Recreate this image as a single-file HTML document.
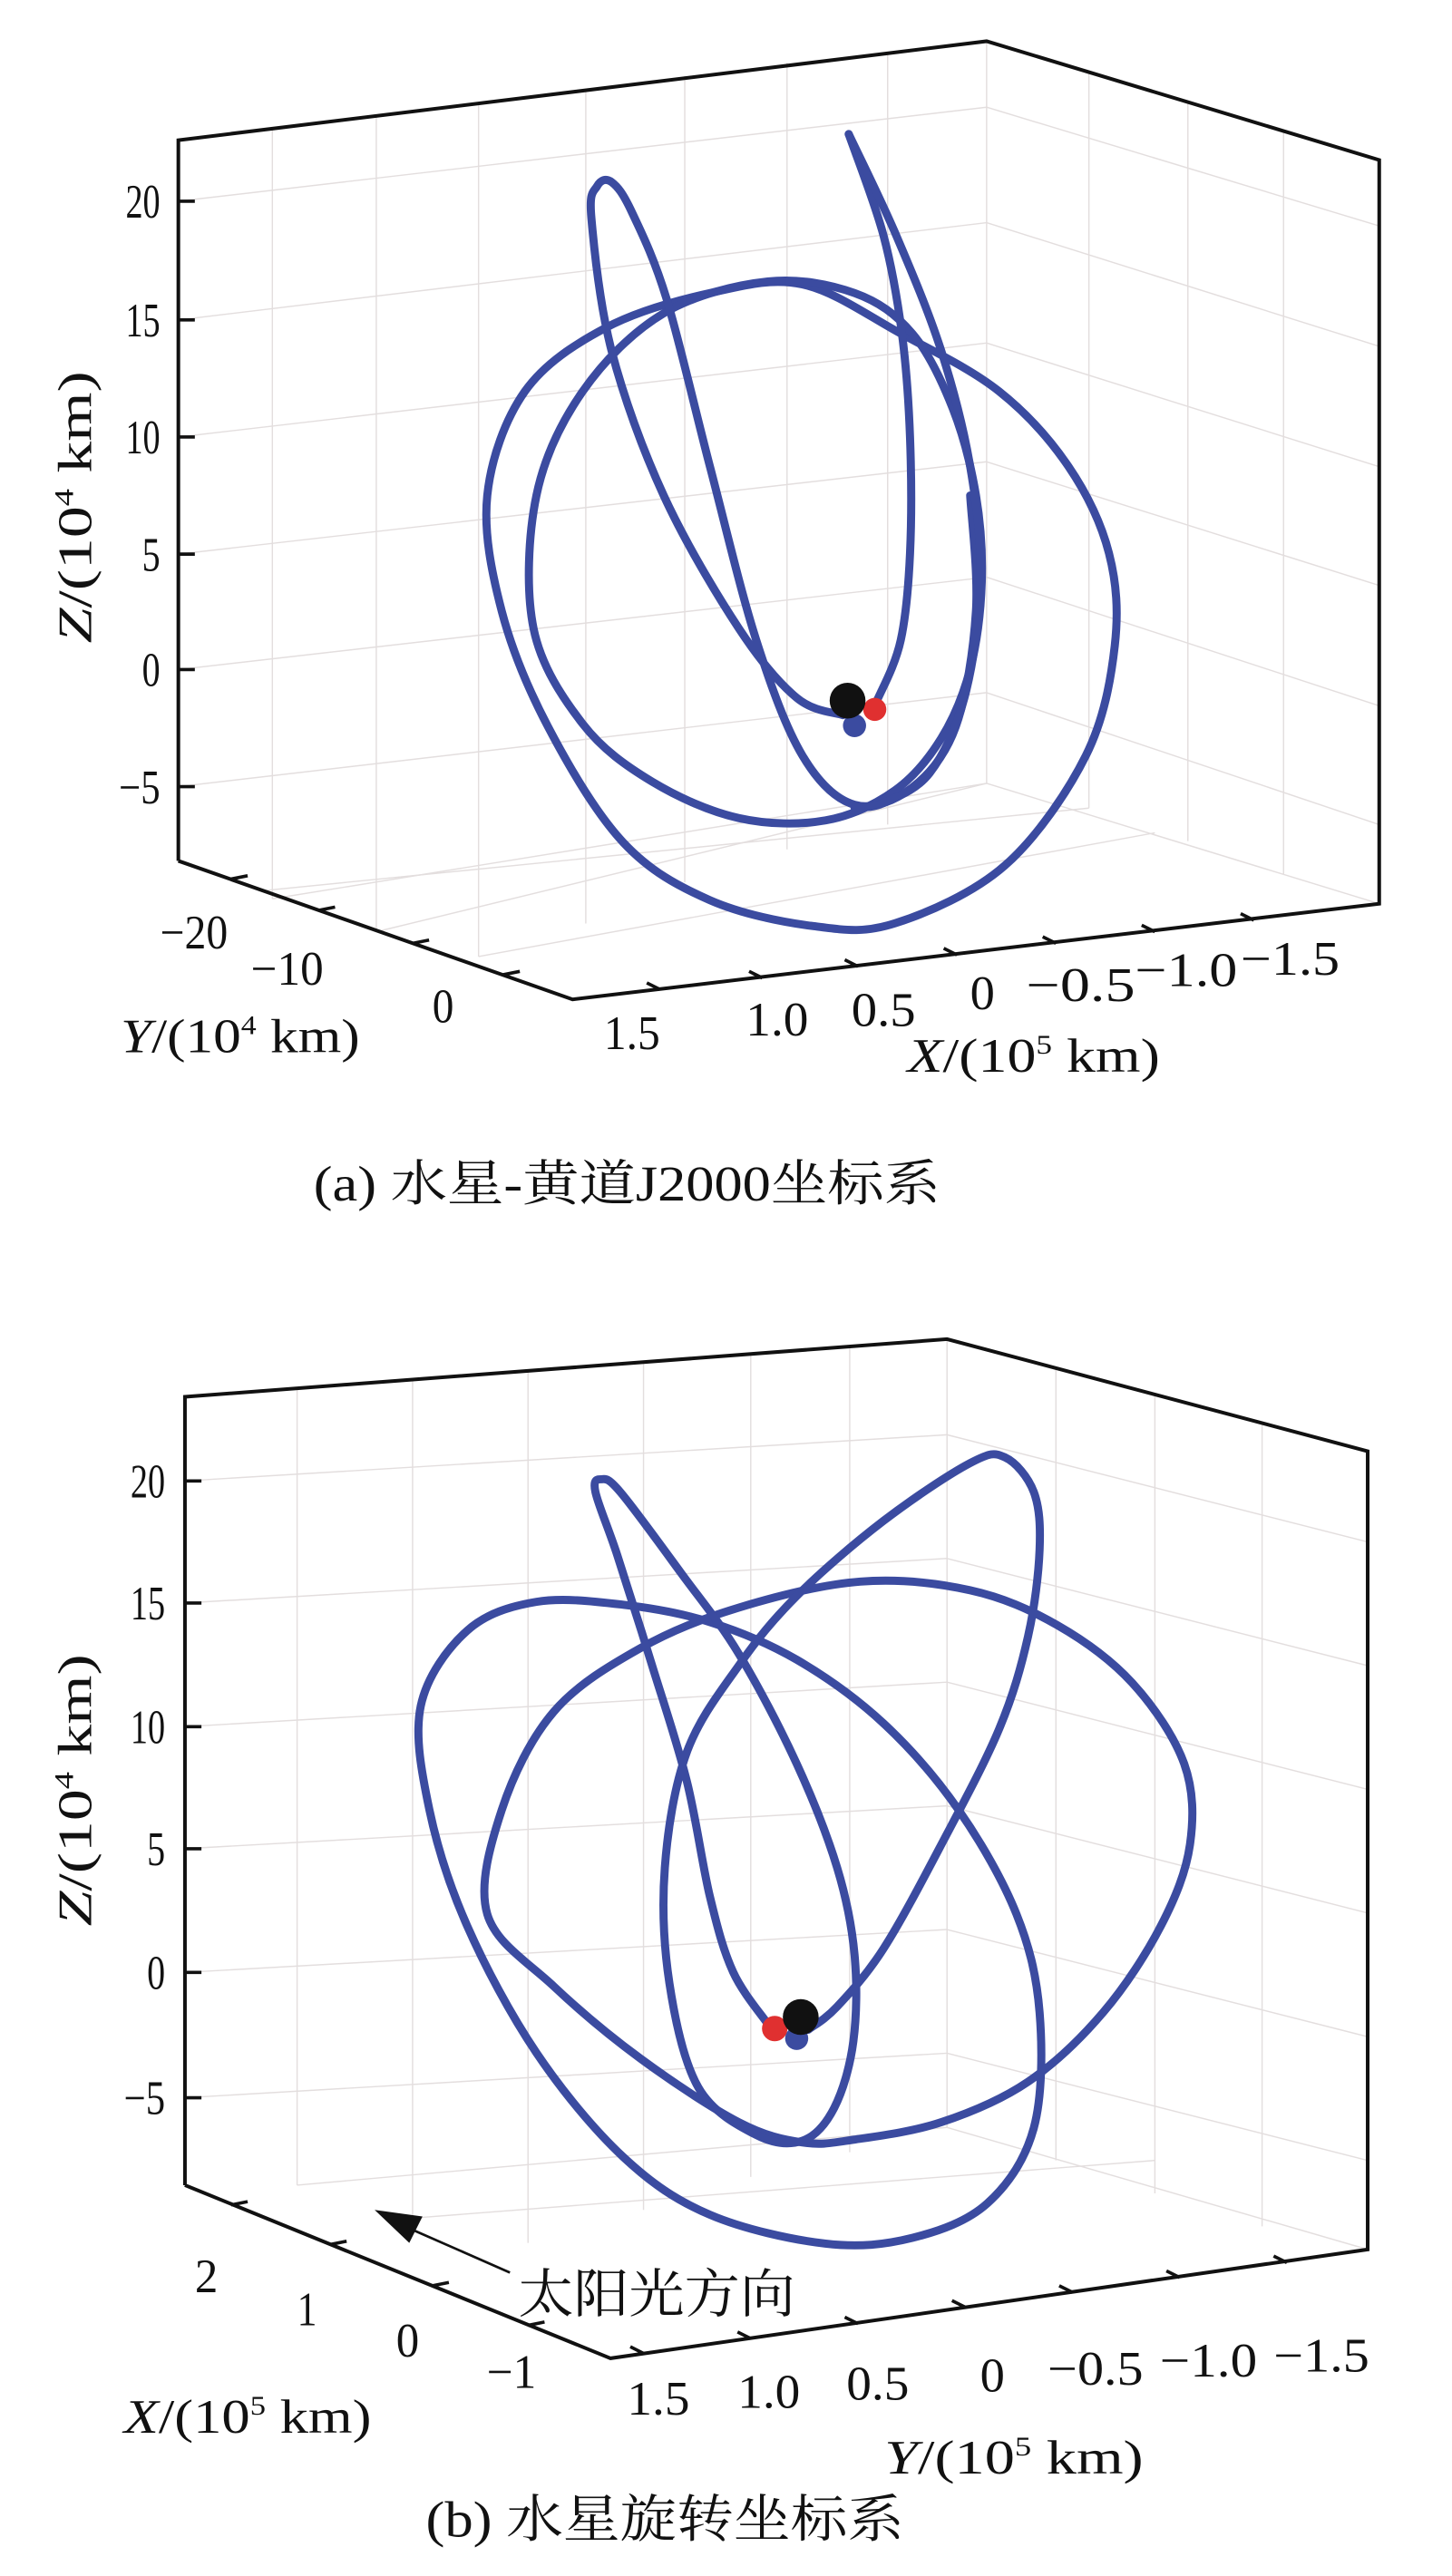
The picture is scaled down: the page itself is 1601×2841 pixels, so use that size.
<!DOCTYPE html>
<html><head><meta charset="utf-8"><style>
html,body{margin:0;padding:0;background:#fff;}
svg{display:block;}
text{font-family:"Liberation Serif","Noto Serif CJK SC",serif;fill:#111;}
</style></head><body>
<svg width="1601" height="2841" viewBox="0 0 880 1562" xmlns="http://www.w3.org/2000/svg">
<!-- ============ PANEL A ============ -->
<g stroke="#e3dede" stroke-width="0.8" fill="none">
  <line x1="165" y1="78" x2="165" y2="545"/>
  <line x1="228" y1="70" x2="228" y2="565"/>
  <line x1="290" y1="62" x2="290" y2="580"/>
  <line x1="355" y1="54" x2="355" y2="560"/>
  <line x1="415" y1="46" x2="415" y2="535"/>
  <line x1="477" y1="38" x2="477" y2="515"/>
  <line x1="538" y1="32" x2="538" y2="500"/>
  <line x1="598" y1="25" x2="598" y2="475"/>
  <line x1="660" y1="44" x2="660" y2="490"/>
  <line x1="720" y1="62" x2="720" y2="510"/>
  <line x1="778" y1="80" x2="778" y2="530"/>
  <line x1="108" y1="122" x2="598" y2="65"/>
  <line x1="108" y1="194" x2="598" y2="135"/>
  <line x1="108" y1="265" x2="598" y2="208"/>
  <line x1="108" y1="336" x2="598" y2="280"/>
  <line x1="108" y1="406" x2="598" y2="350"/>
  <line x1="108" y1="477" x2="598" y2="420"/>
  <line x1="598" y1="65" x2="836" y2="137"/>
  <line x1="598" y1="135" x2="836" y2="210"/>
  <line x1="598" y1="208" x2="836" y2="283"/>
  <line x1="598" y1="280" x2="836" y2="355"/>
  <line x1="598" y1="350" x2="836" y2="428"/>
  <line x1="598" y1="420" x2="836" y2="500"/>
  <line x1="165" y1="545" x2="598" y2="475"/>
  <line x1="228" y1="565" x2="598" y2="475"/>
  <line x1="290" y1="580" x2="700" y2="505"/>
  <line x1="598" y1="475" x2="836" y2="548"/>
  <line x1="160" y1="540" x2="660" y2="490"/>
</g>
<polyline points="108,522 108,85 598,25 836,97 836,548 347,606 108,522" stroke="#111" stroke-width="2.2" fill="none"/>
<g stroke="#111" stroke-width="2">
  <line x1="108" y1="122" x2="118" y2="122"/><line x1="108" y1="194" x2="118" y2="194"/>
  <line x1="108" y1="265" x2="118" y2="265"/><line x1="108" y1="336" x2="118" y2="336"/>
  <line x1="108" y1="406" x2="118" y2="406"/><line x1="108" y1="477" x2="118" y2="477"/>
  <line x1="140" y1="533" x2="150" y2="531"/><line x1="193" y1="552" x2="203" y2="550"/>
  <line x1="250" y1="572" x2="260" y2="570"/><line x1="305" y1="591" x2="315" y2="589"/>
  <line x1="400" y1="600" x2="392" y2="596"/><line x1="462" y1="593" x2="454" y2="589"/>
  <line x1="520" y1="586" x2="512" y2="582"/><line x1="580" y1="579" x2="572" y2="575"/>
  <line x1="640" y1="572" x2="632" y2="568"/><line x1="700" y1="565" x2="692" y2="561"/>
  <line x1="760" y1="558" x2="752" y2="554"/>
</g>
<g font-size="29">
  <text x="76" y="132" textLength="21" lengthAdjust="spacingAndGlyphs">20</text>
  <text x="76" y="204" textLength="21" lengthAdjust="spacingAndGlyphs">15</text>
  <text x="76" y="275" textLength="21" lengthAdjust="spacingAndGlyphs">10</text>
  <text x="86" y="346" textLength="11" lengthAdjust="spacingAndGlyphs">5</text>
  <text x="86" y="416" textLength="11" lengthAdjust="spacingAndGlyphs">0</text>
  <text x="72" y="487" textLength="25" lengthAdjust="spacingAndGlyphs">−5</text>
  <text x="97" y="575" textLength="41" lengthAdjust="spacingAndGlyphs">−20</text>
  <text x="152" y="597" textLength="44" lengthAdjust="spacingAndGlyphs">−10</text>
  <text x="262" y="620" textLength="13" lengthAdjust="spacingAndGlyphs">0</text>
  <text x="366" y="636" textLength="34" lengthAdjust="spacingAndGlyphs">1.5</text>
  <text x="452" y="628" textLength="38" lengthAdjust="spacingAndGlyphs">1.0</text>
  <text x="516" y="622" textLength="39" lengthAdjust="spacingAndGlyphs">0.5</text>
  <text x="588" y="612" textLength="15" lengthAdjust="spacingAndGlyphs">0</text>
  <text x="622" y="607" textLength="66" lengthAdjust="spacingAndGlyphs">−0.5</text>
  <text x="688" y="598" textLength="62" lengthAdjust="spacingAndGlyphs">−1.0</text>
  <text x="752" y="591" textLength="60" lengthAdjust="spacingAndGlyphs">−1.5</text>
  <text x="73" y="638" textLength="145" lengthAdjust="spacingAndGlyphs"><tspan font-style="italic">Y</tspan>/(10<tspan font-size="16" dy="-11">4</tspan><tspan dy="11"> km)</tspan></text>
  <text x="550" y="650" textLength="153" lengthAdjust="spacingAndGlyphs"><tspan font-style="italic">X</tspan>/(10<tspan font-size="16" dy="-11">5</tspan><tspan dy="11"> km)</tspan></text>
  <text transform="translate(55,390) rotate(-90)" x="0" y="0" textLength="165" lengthAdjust="spacingAndGlyphs"><tspan font-style="italic">Z</tspan>/(10<tspan font-size="16" dy="-11">4</tspan><tspan dy="11"> km)</tspan></text>
  <text x="190" y="728" font-size="30" textLength="380" lengthAdjust="spacingAndGlyphs">(a) 水星-黄道J2000坐标系</text>
</g>

<g transform="translate(219.9,55) scale(0.3506)" stroke="#3b4ba0" stroke-width="14" fill="none" stroke-linecap="round" stroke-linejoin="round">
  <path class="orb" d="M215,700 L280,520 L420,410 L600,350 L760,335 L930,420 L1100,520 L1220,650 L1290,800 L1300,960 L1250,1150 L1110,1340 L920,1440 L780,1445 L600,1400 L450,1300 L320,1100 L240,900 Z"/>
  <path class="orb" d="M295,930 L300,700 L380,520 L520,385 L700,330 L850,350 L950,420 L1020,550 L1060,700 L1070,850 L1050,1000 L1000,1120 L920,1210 L800,1262 L650,1258 L500,1195 L380,1095 Z"/>
  <path class="orb" d="M830,1080 L750,1050 L650,930 L520,700 L430,450 L395,220 L405,165 L430,158 L465,210 L525,360 L600,650 L680,950 L760,1150 L850,1235 L950,1205 L1025,1100 L1060,900 L1050,700"/>
  <path class="orb" d="M840,75 L900,250 L932,420 L946,600 L946,800 L930,950 L892,1048 L875,1070"/>
  <path class="orb" d="M840,75 L922,250 L1000,450 L1050,650 L1068,850 L1040,1050 L980,1180 L900,1232 L850,1240"/>
</g>
<g transform="translate(219.9,55) scale(0.3506)">
  <circle cx="850" cy="1098" r="20" fill="#3b4ba0"/>
  <circle cx="885" cy="1070" r="20" fill="#e03030"/>
  <circle cx="838" cy="1055" r="31" fill="#111"/>
</g>

<!-- ============ PANEL B ============ -->
<g stroke="#e3dede" stroke-width="0.8" fill="none">
  <line x1="180" y1="842" x2="180" y2="1325"/>
  <line x1="250" y1="837" x2="250" y2="1345"/>
  <line x1="320" y1="832" x2="320" y2="1360"/>
  <line x1="390" y1="827" x2="390" y2="1340"/>
  <line x1="455" y1="822" x2="455" y2="1320"/>
  <line x1="515" y1="817" x2="515" y2="1305"/>
  <line x1="574" y1="812" x2="574" y2="1290"/>
  <line x1="640" y1="830" x2="640" y2="1310"/>
  <line x1="700" y1="846" x2="700" y2="1330"/>
  <line x1="765" y1="863" x2="765" y2="1350"/>
  <line x1="112" y1="898" x2="574" y2="870"/>
  <line x1="112" y1="972" x2="574" y2="945"/>
  <line x1="112" y1="1047" x2="574" y2="1020"/>
  <line x1="112" y1="1121" x2="574" y2="1095"/>
  <line x1="112" y1="1196" x2="574" y2="1170"/>
  <line x1="112" y1="1272" x2="574" y2="1245"/>
  <line x1="574" y1="870" x2="829" y2="935"/>
  <line x1="574" y1="945" x2="829" y2="1010"/>
  <line x1="574" y1="1020" x2="829" y2="1085"/>
  <line x1="574" y1="1095" x2="829" y2="1160"/>
  <line x1="574" y1="1170" x2="829" y2="1235"/>
  <line x1="574" y1="1245" x2="829" y2="1310"/>
  <line x1="180" y1="1325" x2="574" y2="1290"/>
  <line x1="250" y1="1345" x2="700" y2="1310"/>
  <line x1="574" y1="1290" x2="829" y2="1364"/>
</g>
<polyline points="112,1325 112,847 574,812 829,880 829,1364 370,1430 112,1325" stroke="#111" stroke-width="2.2" fill="none"/>
<g stroke="#111" stroke-width="2">
  <line x1="112" y1="898" x2="122" y2="898"/><line x1="112" y1="972" x2="122" y2="972"/>
  <line x1="112" y1="1047" x2="122" y2="1047"/><line x1="112" y1="1121" x2="122" y2="1121"/>
  <line x1="112" y1="1196" x2="122" y2="1196"/><line x1="112" y1="1272" x2="122" y2="1272"/>
  <line x1="140" y1="1337" x2="150" y2="1335"/><line x1="200" y1="1361" x2="210" y2="1359"/>
  <line x1="262" y1="1386" x2="272" y2="1384"/><line x1="320" y1="1410" x2="330" y2="1408"/>
  <line x1="390" y1="1427" x2="382" y2="1423"/><line x1="455" y1="1418" x2="447" y2="1414"/>
  <line x1="520" y1="1409" x2="512" y2="1405"/><line x1="585" y1="1399" x2="577" y2="1395"/>
  <line x1="650" y1="1390" x2="642" y2="1386"/><line x1="715" y1="1381" x2="707" y2="1377"/>
  <line x1="780" y1="1372" x2="772" y2="1368"/>
</g>
<g font-size="29">
  <text x="79" y="908" textLength="21" lengthAdjust="spacingAndGlyphs">20</text>
  <text x="79" y="982" textLength="21" lengthAdjust="spacingAndGlyphs">15</text>
  <text x="79" y="1057" textLength="21" lengthAdjust="spacingAndGlyphs">10</text>
  <text x="89" y="1131" textLength="11" lengthAdjust="spacingAndGlyphs">5</text>
  <text x="89" y="1206" textLength="11" lengthAdjust="spacingAndGlyphs">0</text>
  <text x="75" y="1282" textLength="25" lengthAdjust="spacingAndGlyphs">−5</text>
  <text transform="translate(55,1168) rotate(-90)" x="0" y="0" textLength="165" lengthAdjust="spacingAndGlyphs"><tspan font-style="italic">Z</tspan>/(10<tspan font-size="16" dy="-11">4</tspan><tspan dy="11"> km)</tspan></text>
  <text x="118" y="1390" textLength="14" lengthAdjust="spacingAndGlyphs">2</text>
  <text x="180" y="1410" textLength="12" lengthAdjust="spacingAndGlyphs">1</text>
  <text x="240" y="1429" textLength="14" lengthAdjust="spacingAndGlyphs">0</text>
  <text x="295" y="1448" textLength="30" lengthAdjust="spacingAndGlyphs">−1</text>
  <text x="75" y="1475" textLength="150" lengthAdjust="spacingAndGlyphs"><tspan font-style="italic">X</tspan>/(10<tspan font-size="16" dy="-11">5</tspan><tspan dy="11"> km)</tspan></text>
  <text x="380" y="1464" textLength="38" lengthAdjust="spacingAndGlyphs">1.5</text>
  <text x="447" y="1460" textLength="38" lengthAdjust="spacingAndGlyphs">1.0</text>
  <text x="513" y="1455" textLength="38" lengthAdjust="spacingAndGlyphs">0.5</text>
  <text x="594" y="1450" textLength="15" lengthAdjust="spacingAndGlyphs">0</text>
  <text x="635" y="1446" textLength="58" lengthAdjust="spacingAndGlyphs">−0.5</text>
  <text x="703" y="1441" textLength="59" lengthAdjust="spacingAndGlyphs">−1.0</text>
  <text x="772" y="1438" textLength="58" lengthAdjust="spacingAndGlyphs">−1.5</text>
  <text x="536" y="1500" textLength="157" lengthAdjust="spacingAndGlyphs"><tspan font-style="italic">Y</tspan>/(10<tspan font-size="16" dy="-11">5</tspan><tspan dy="11"> km)</tspan></text>
  <text x="258" y="1538" font-size="31" textLength="290" lengthAdjust="spacingAndGlyphs">(b) 水星旋转坐标系</text>
  <text x="314" y="1402" font-size="32" textLength="168" lengthAdjust="spacingAndGlyphs">太阳光方向</text>
</g>
<line x1="309" y1="1378" x2="243" y2="1349" stroke="#111" stroke-width="1.5"/>
<polygon points="227,1340 256,1344 248,1360" fill="#111"/>

<g transform="translate(219.9,852.1) scale(0.3506)" stroke="#3b4ba0" stroke-width="14" fill="none" stroke-linecap="round" stroke-linejoin="round">
  <path class="orb" d="M100,520 L180,390 L300,340 L450,345 L600,375 L750,440 L900,550 L1030,700 L1130,880 L1170,1050 L1160,1250 L1080,1380 L950,1440 L800,1450 L600,1400 L450,1300 L300,1120 L180,900 L115,700 Z"/>
  <path class="orb" d="M215,880 L240,700 L330,530 L480,420 L650,350 L860,305 L1050,320 L1200,380 L1330,480 L1420,620 L1430,760 L1380,900 L1280,1050 L1150,1170 L1000,1240 L850,1270 L760,1275 L650,1240 L480,1130 L330,1005 Z"/>
  <path class="orb" d="M700,1070 L640,980 L600,850 L560,650 L500,450 L440,260 L402,150 L412,128 L445,150 L550,290 L650,430 L750,620 L820,800 L850,950 L848,1100 L815,1215 L760,1272 L680,1262 L580,1180 L530,1000 L522,800 L560,600 L650,450 L750,330 L900,200 L1050,100 L1110,90 L1160,150 L1170,250 L1150,400 L1100,560 L1000,760 L900,940 L820,1040 L770,1080"/>
</g>
<g transform="translate(219.9,852.1) scale(0.3506)">
  <circle cx="750" cy="1095" r="20" fill="#3b4ba0"/>
  <circle cx="712" cy="1078" r="22" fill="#e03030"/>
  <circle cx="757" cy="1058" r="31" fill="#111"/>
</g>
</svg>
<script>
document.querySelectorAll('path.orb').forEach(function(p){
  var d=p.getAttribute('d'); var closed=/Z\s*$/.test(d);
  var n=d.match(/-?\d+(\.\d+)?/g).map(Number); var pts=[];
  for(var i=0;i<n.length;i+=2)pts.push([n[i],n[i+1]]);
  var N=pts.length; function g(i){ if(closed) return pts[(i+N)%N]; return pts[Math.max(0,Math.min(N-1,i))]; }
  var s='M'+pts[0][0]+','+pts[0][1]; var last=closed?N:N-1;
  for(var i=0;i<last;i++){var p0=g(i-1),p1=g(i),p2=g(i+1),p3=g(i+2);
    s+=' C'+(p1[0]+(p2[0]-p0[0])/6)+','+(p1[1]+(p2[1]-p0[1])/6)+' '+(p2[0]-(p3[0]-p1[0])/6)+','+(p2[1]-(p3[1]-p1[1])/6)+' '+p2[0]+','+p2[1];}
  if(closed)s+=' Z'; p.setAttribute('d',s);
});
</script>
</body></html>
